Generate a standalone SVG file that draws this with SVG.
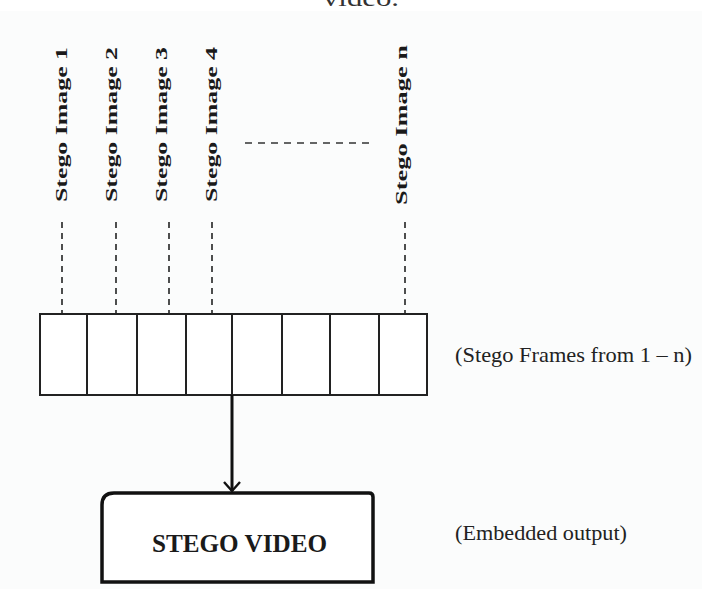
<svg xmlns="http://www.w3.org/2000/svg" width="702" height="589" viewBox="0 0 702 589">
<defs>
<style>
.lbl{font-family:"Liberation Serif","Times New Roman",serif;font-weight:bold;font-size:17px;fill:#1a1a1a}
.note{font-family:"Liberation Serif","Times New Roman",serif;font-size:21px;fill:#222}
.dash{stroke:#222;stroke-width:1.6;stroke-dasharray:6,5;fill:none}
.frame{fill:#fff;stroke:#222;stroke-width:2}
</style>
<marker id="vhead" viewBox="-11 -10 13 20" refX="0" refY="0" markerWidth="13" markerHeight="20" markerUnits="userSpaceOnUse" orient="auto">
<path d="M-9,-8 L0,0 L-9,8" fill="none" stroke="#111" stroke-width="2.4"/>
</marker>
</defs>
<rect x="0" y="0" width="702" height="589" fill="#ffffff"/>
<rect x="0" y="11" width="702" height="578" fill="#fbfcfc"/>
<text x="323" y="6" font-family="Liberation Serif, serif" font-size="24" fill="#333" textLength="76" lengthAdjust="spacingAndGlyphs">video.</text>

<g id="label1"><text class="lbl" transform="translate(67,202) rotate(-90)" textLength="155" lengthAdjust="spacingAndGlyphs">Stego Image 1</text></g>
<g id="label2"><text class="lbl" transform="translate(117,202) rotate(-90)" textLength="155" lengthAdjust="spacingAndGlyphs">Stego Image 2</text></g>
<g id="label3"><text class="lbl" transform="translate(167,202) rotate(-90)" textLength="155" lengthAdjust="spacingAndGlyphs">Stego Image 3</text></g>
<g id="label4"><text class="lbl" transform="translate(217,202) rotate(-90)" textLength="155" lengthAdjust="spacingAndGlyphs">Stego Image 4</text></g>
<g id="labeln"><text class="lbl" transform="translate(407,205) rotate(-90)" textLength="160" lengthAdjust="spacingAndGlyphs">Stego Image n</text></g>

<g id="frames">
<rect class="frame" x="40" y="314" width="47" height="81"/>
<rect class="frame" x="87" y="314" width="50" height="81"/>
<rect class="frame" x="137" y="314" width="49" height="81"/>
<rect class="frame" x="186" y="314" width="46" height="81"/>
<rect class="frame" x="232" y="314" width="50" height="81"/>
<rect class="frame" x="282" y="314" width="48" height="81"/>
<rect class="frame" x="330" y="314" width="49" height="81"/>
<rect class="frame" x="379" y="314" width="48" height="81"/>
</g>

<g id="frames-note"><text class="note" x="455" y="362" textLength="237" lengthAdjust="spacingAndGlyphs">(Stego Frames from 1 – n)</text></g>

<g id="stego-video">
<path d="M114,493 L369,493 Q373,493 373,497 L373,582 L102,582 L102,505 Q102,493 114,493 Z" fill="#fff" stroke="#111" stroke-width="3.5"/>
<text x="152" y="552" font-family="Liberation Serif, 'Times New Roman', serif" font-weight="bold" font-size="26" fill="#1a1a1a" textLength="175" lengthAdjust="spacingAndGlyphs">STEGO VIDEO</text>
</g>

<g id="output-note"><text class="note" x="455" y="540" textLength="172" lengthAdjust="spacingAndGlyphs">(Embedded output)</text></g>

<g id="connectors">
<line class="dash" x1="62" y1="222" x2="62" y2="314"/>
<line class="dash" x1="116" y1="222" x2="116" y2="314"/>
<line class="dash" x1="169" y1="222" x2="169" y2="314"/>
<line class="dash" x1="212" y1="222" x2="212" y2="314"/>
<line class="dash" x1="405" y1="222" x2="405" y2="314"/>
<line x1="245" y1="143" x2="373" y2="143" stroke="#333" stroke-width="1.6" stroke-dasharray="7,6"/>
<line x1="232" y1="395" x2="232" y2="491" stroke="#111" stroke-width="3" marker-end="url(#vhead)"/>
</g>
</svg>
